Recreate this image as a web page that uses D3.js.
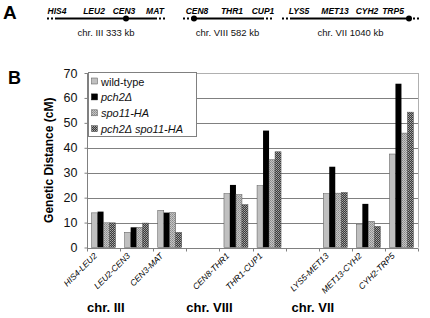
<!DOCTYPE html>
<html>
<head>
<meta charset="utf-8">
<script src="https://cdn.jsdelivr.net/npm/d3@7"></script>
<style>
  body { margin: 0; background: #fff; }
  svg text { font-family: "Liberation Sans", Arial, sans-serif; }
</style>
</head>
<body>
<div id="chart-area"></div>
<script>
const W = 430, H = 318
const MARGIN = { LEFT: 87, RIGHT: 12, TOP: 73, BOTTOM: 70 }

// panel B data
const intervals = ["HIS4-LEU2", "LEU2-CEN3", "CEN3-MAT", "", "CEN8-THR1", "THR1-CUP1", "", "LYS5-MET13", "MET13-CYH2", "CYH2-TRP5"]
const series = ["wild-type", "pch2Δ", "spo11-HA", "pch2Δ spo11-HA"]
const wildType = [13.9, 6.1, 14.9, null, 21.6, 24.8, null, 21.6, 9.2, 37.5]
const pch2 = [14.4, 8.1, 14.0, null, 25.1, 46.9, null, 32.4, 17.5, 65.7]
const spo11 = [9.9, 8.1, 14.0, null, 21.2, 35.2, null, 21.8, 10.5, 45.9]
const pch2spo11 = [9.9, 9.8, 6.1, null, 17.2, 38.4, null, 22.1, 8.5, 54.3]
const yTicks = [0, 10, 20, 30, 40, 50, 60, 70]
const chrGroups = [{ name: "chr. III", start: 0 }, { name: "chr. VIII", start: 3 }, { name: "chr. VII", start: 6 }]

// panel A data (map positions in figure units)
const chromosomes = [
  { name: "chr. III 333 kb", from: 57, to: 155, cen: 126,
    genes: [["HIS4", 57], ["LEU2", 94], ["CEN3", 124], ["MAT", 155]] },
  { name: "chr. VIII 582 kb", from: 193, to: 262, cen: 194,
    genes: [["CEN8", 197], ["THR1", 232], ["CUP1", 263]] },
  { name: "chr. VII 1040 kb", from: 292, to: 409, cen: 409,
    genes: [["LYS5", 299], ["MET13", 335], ["CYH2", 367], ["TRP5", 393]] }
]

const svg = d3.select("#chart-area").append("svg")
  .attr("width", W)
  .attr("height", H)

// fill patterns
const defs = svg.append("defs")
const pat1 = defs.append("pattern").attr("id", "p-spo").attr("width", 2).attr("height", 2)
  .attr("patternUnits", "userSpaceOnUse")
pat1.append("rect").attr("width", 2).attr("height", 2).attr("fill", "#c4c4c4")
pat1.append("rect").attr("width", 1).attr("height", 1).attr("fill", "#8a8a8a")
pat1.append("rect").attr("x", 1).attr("y", 1).attr("width", 1).attr("height", 1).attr("fill", "#9a9a9a")
const pat2 = defs.append("pattern").attr("id", "p-dbl").attr("width", 2).attr("height", 2)
  .attr("patternUnits", "userSpaceOnUse")
pat2.append("rect").attr("width", 2).attr("height", 2).attr("fill", "#3a3a3a")
pat2.append("rect").attr("width", 1).attr("height", 1).attr("fill", "#a8a8a8")
pat2.append("rect").attr("x", 1).attr("y", 1).attr("width", 1).attr("height", 1).attr("fill", "#8c8c8c")

const fills = ["#c0c0c0", "#000", "url(#p-spo)", "url(#p-dbl)"]
const values = [wildType, pch2, spo11, pch2spo11]

// ---- panel A ----
svg.append("text").attr("x", 3).attr("y", 19)
  .attr("font-size", 19).attr("font-weight", "bold").text("A")

const chrG = svg.append("g")
chromosomes.forEach(c => {
  const g = chrG.append("g")
  // dotted ends
  ;[[c.from - 10, c.from], [c.to, c.to + 10]].forEach(([a, b]) => {
    g.append("line").attr("x1", a).attr("x2", b).attr("y1", 18.5).attr("y2", 18.5)
      .attr("stroke", "#000").attr("stroke-width", 2).attr("stroke-dasharray", "2,2")
  })
  g.append("line").attr("x1", c.from).attr("x2", c.to).attr("y1", 18.5).attr("y2", 18.5)
    .attr("stroke", "#000").attr("stroke-width", 2)
  g.append("circle").attr("cx", c.cen).attr("cy", 18.5).attr("r", 3).attr("fill", "#000")
  c.genes.forEach(([n, x]) => {
    g.append("text").attr("x", x).attr("y", 14)
      .attr("text-anchor", "middle").attr("font-size", 8.5)
      .attr("font-weight", "bold").attr("font-style", "italic").text(n)
  })
  g.append("text").attr("x", (c.from + c.to) / 2).attr("y", 36)
    .attr("text-anchor", "middle").attr("font-size", 9.5).attr("fill", "#111").text(c.name)
})

// ---- panel B ----
svg.append("text").attr("x", 8).attr("y", 84)
  .attr("font-size", 18).attr("font-weight", "bold").text("B")

const x = d3.scaleBand()
  .domain(d3.range(intervals.length))
  .range([MARGIN.LEFT, W - MARGIN.RIGHT])
  .padding(0)

const xs = d3.scaleBand()
  .domain(d3.range(series.length))
  .range([0, x.bandwidth()])
  .paddingInner(0)
  .paddingOuter(0.76)

const y = d3.scaleLinear()
  .domain([0, 70])
  .range([H - MARGIN.BOTTOM - 0.5, MARGIN.TOP])

// gridlines and plot border
svg.append("g")
  .selectAll("line")
  .data(yTicks.slice(1))
  .join("line")
    .attr("x1", MARGIN.LEFT).attr("x2", W - MARGIN.RIGHT)
    .attr("y1", d => Math.round(y(d)) + 0.5).attr("y2", d => Math.round(y(d)) + 0.5)
    .attr("stroke", d => d === 70 ? "#b0b0b0" : "#808080")
svg.append("line")
  .attr("x1", W - MARGIN.RIGHT + 0.5).attr("x2", W - MARGIN.RIGHT + 0.5)
  .attr("y1", y(70)).attr("y2", y(0))
  .attr("stroke", "#b0b0b0")

// bars
series.forEach((s, i) => {
  svg.append("g")
    .selectAll("rect")
    .data(values[i].map((v, k) => ({ k, v })).filter(d => d.v != null))
    .join("rect")
      .attr("x", d => x(d.k) + xs(i))
      .attr("width", xs.bandwidth())
      .attr("y", d => y(d.v))
      .attr("height", d => y(0) - y(d.v))
      .attr("fill", fills[i])
      .attr("stroke", i === 1 ? "none" : "#555")
      .attr("stroke-width", 0.5)
})

// x axis
const xAxis = svg.append("g")
  .attr("transform", `translate(0,${Math.round(y(0)) + 0.5})`)
xAxis.append("line")
  .attr("x1", MARGIN.LEFT).attr("x2", W - MARGIN.RIGHT)
  .attr("stroke", "#808080")
xAxis.selectAll(".tk")
  .data(d3.range(intervals.length + 1))
  .join("line")
    .attr("class", "tk")
    .attr("x1", d => Math.round(MARGIN.LEFT + d * x.step()) + 0.5)
    .attr("x2", d => Math.round(MARGIN.LEFT + d * x.step()) + 0.5)
    .attr("y1", 0).attr("y2", 3)
    .attr("stroke", "#808080")
xAxis.selectAll("text")
  .data(intervals.map((n, k) => ({ n, k })).filter(d => d.n))
  .join("text")
    .attr("transform", d => `translate(${x(d.k) + x.bandwidth() / 2 - 6},8) rotate(-45)`)
    .attr("text-anchor", "end")
    .attr("font-size", 8.5)
    .attr("font-style", "italic")
    .attr("fill", "#000")
    .text(d => d.n)

// y axis
svg.append("g")
  .attr("transform", `translate(${MARGIN.LEFT + 0.5},0)`)
  .call(d3.axisLeft(y).tickValues(yTicks).tickSize(3).tickPadding(7))
  .call(g => g.select(".domain").attr("stroke", "#808080").attr("d", `M-0,${y(70)}V${y(0) + 1}`))
  .call(g => g.selectAll(".tick line").attr("stroke", "#808080"))
  .call(g => g.selectAll(".tick text")
    .attr("font-size", 12.5)
    .attr("font-family", "'Liberation Sans', Arial, sans-serif")
    .attr("fill", "#111"))

svg.append("text")
  .attr("transform", `translate(53,${(y(0) + y(70)) / 2}) rotate(-90)`)
  .attr("text-anchor", "middle")
  .attr("font-size", 12)
  .attr("font-weight", "bold")
  .text("Genetic Distance (cM)")

// chromosome group labels
svg.append("g")
  .selectAll("text")
  .data(chrGroups)
  .join("text")
    .attr("x", d => x(d.start) + (d.start === 6 ? 6 : 0))
    .attr("y", 312)
    .attr("font-size", 13)
    .attr("font-weight", "bold")
    .text(d => d.name)

// legend
const leg = svg.append("g").attr("transform", `translate(${MARGIN.LEFT + 1},${MARGIN.TOP - 1})`)
leg.append("rect")
  .attr("x", 0.5).attr("y", 0.5).attr("width", 108).attr("height", 64)
  .attr("fill", "#fff").attr("stroke", "#808080")
series.forEach((s, i) => {
  const yy = 9.5 + i * 15.9
  leg.append("rect")
    .attr("x", 3.5).attr("y", yy - 3.5).attr("width", 6).attr("height", 6)
    .attr("fill", fills[i]).attr("stroke", i === 1 ? "#000" : "#555").attr("stroke-width", 0.5)
  leg.append("text")
    .attr("x", 13).attr("y", yy + 4)
    .attr("font-size", 11)
    .attr("font-style", i === 0 ? "normal" : "italic")
    .attr("fill", "#111")
    .text(s)
})
</script>
</body>
</html>
